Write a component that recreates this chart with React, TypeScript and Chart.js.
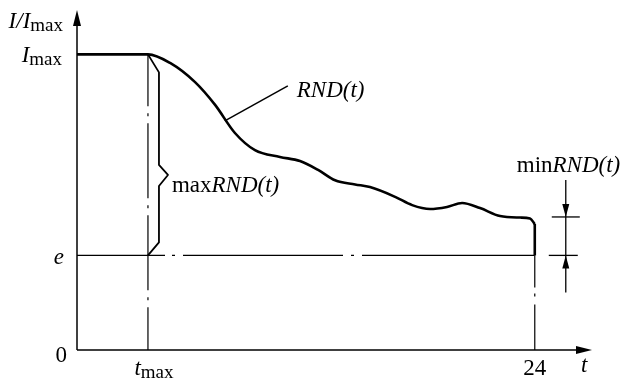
import React, { useEffect, useRef } from "react";
import { Chart, registerables } from "chart.js";

Chart.register(...registerables);

// Time axis (hours) and relative intensity RND(t) = I / I_max
const tHours = [0, 3.72, 4.88, 6.19, 7.24, 8.28, 9.33, 10.64, 11.69, 12.64, 13.53, 14.58, 15.36, 16.68, 17.57, 18.51, 19.4, 20.19, 21.13, 22.18, 23.23, 23.75, 24.0];
const rndValues = [1.0, 1.0, 0.971, 0.906, 0.829, 0.734, 0.676, 0.653, 0.639, 0.609, 0.574, 0.56, 0.551, 0.518, 0.49, 0.477, 0.484, 0.497, 0.48, 0.453, 0.448, 0.445, 0.426];
// final drop of the curve at t = 24 down to the e level
const dropT = [24.0, 24.0];
const dropValues = [0.426, 0.32];

const T_MAX = 3.72;
const T_END = 24;
const I_MAX = 1;
const E_LEVEL = 0.32;
const MIN_RND = 0.45;
const X_LIMIT = 27;
const Y_LIMIT = 1.15;
const LEADER_ANCHOR = { t: 7.75, v: 0.775 };

const yTickLabels = ["0", "e", "I_max"];
const xTickLabels = ["t_max", "24"];
const axisTitles = ["I/I_max", "t"];
const curveLabels = ["RND(t)", "maxRND(t)", "minRND(t)"];

const SERIF = '"Liberation Serif", "Times New Roman", serif';

type Part = { text: string; italic?: boolean; size: number; dy?: number };

function partsWidth(ctx: CanvasRenderingContext2D, parts: Part[]) {
  let w = 0;
  for (const p of parts) {
    ctx.font = `${p.italic ? "italic " : ""}${p.size}px ${SERIF}`;
    w += ctx.measureText(p.text).width;
  }
  return w;
}

function drawParts(ctx: CanvasRenderingContext2D, parts: Part[], x: number, y: number, align: "left" | "right" | "center") {
  const w = partsWidth(ctx, parts);
  let cx = align === "left" ? x : align === "right" ? x - w : x - w / 2;
  ctx.textAlign = "left";
  ctx.textBaseline = "alphabetic";
  ctx.fillStyle = "#000";
  for (const p of parts) {
    ctx.font = `${p.italic ? "italic " : ""}${p.size}px ${SERIF}`;
    ctx.fillText(p.text, cx, y + (p.dy || 0));
    cx += ctx.measureText(p.text).width;
  }
}

function line(ctx: CanvasRenderingContext2D, pts: number[][], width: number, dash: number[] = [], offset = 0) {
  ctx.save();
  ctx.strokeStyle = "#000";
  ctx.lineWidth = width;
  ctx.setLineDash(dash);
  ctx.lineDashOffset = offset;
  ctx.lineJoin = "round";
  ctx.beginPath();
  ctx.moveTo(pts[0][0], pts[0][1]);
  for (let i = 1; i < pts.length; i++) ctx.lineTo(pts[i][0], pts[i][1]);
  ctx.stroke();
  ctx.restore();
}

function arrowHead(ctx: CanvasRenderingContext2D, tipX: number, tipY: number, dx: number, dy: number, len: number, half: number) {
  const bx = tipX - dx * len;
  const by = tipY - dy * len;
  const px = -dy;
  const py = dx;
  ctx.save();
  ctx.fillStyle = "#000";
  ctx.beginPath();
  ctx.moveTo(tipX, tipY);
  ctx.lineTo(bx + px * half, by + py * half);
  ctx.lineTo(bx - px * half, by - py * half);
  ctx.closePath();
  ctx.fill();
  ctx.restore();
}

function splitLabel(s: string): Part[] {
  if (s.includes("_")) {
    const [a, b] = s.split("_");
    return [
      { text: a, italic: true, size: 23 },
      { text: b, italic: false, size: 19, dy: 3 },
    ];
  }
  if (s.startsWith("max") || s.startsWith("min")) {
    return [
      { text: s.slice(0, 3), italic: false, size: 23 },
      { text: s.slice(3), italic: true, size: 23 },
    ];
  }
  if (/^[0-9]+$/.test(s)) return [{ text: s, italic: false, size: 23 }];
  return [{ text: s, italic: true, size: 23 }];
}

const diagramPlugin = {
  id: "diagram",
  afterDatasetsDraw(chart: any) {
    const ctx: CanvasRenderingContext2D = chart.ctx;
    const xs = chart.scales.x;
    const ys = chart.scales.y;
    const x0 = xs.getPixelForValue(0);
    const y0 = ys.getPixelForValue(0);
    const xEnd = xs.getPixelForValue(X_LIMIT);
    const yTop = ys.getPixelForValue(Y_LIMIT);
    const xT = xs.getPixelForValue(T_MAX);
    const x24 = xs.getPixelForValue(T_END);
    const yI = ys.getPixelForValue(I_MAX);
    const yE = ys.getPixelForValue(E_LEVEL);
    const yMin = ys.getPixelForValue(MIN_RND);

    // axes
    line(ctx, [[x0, y0], [x0, yTop + 10]], 1.5);
    arrowHead(ctx, x0, yTop, 0, -1, 16, 4);
    line(ctx, [[x0, y0], [xEnd - 10, y0]], 1.5);
    arrowHead(ctx, xEnd, y0, 1, 0, 16, 4);

    // e level dash-dot line
    line(ctx, [[x0, yE], [x24, yE]], 1.3, [88, 7, 3, 8, 160, 8, 3, 8, 400]);
    // t_max vertical dash-dot
    line(ctx, [[xT, yI], [xT, y0]], 1.2, [75, 7, 3, 7], 23);
    // end vertical below e
    line(ctx, [[x24, yE], [x24, y0]], 1.2, [32, 6, 3, 8, 200]);

    // brace maxRND(t)
    const bx = xT + 11;
    const bump = yI + (yE - yI) * 0.6;
    line(ctx, [
      [xT, yI], [bx, yI + 18], [bx, bump - 10], [bx + 9, bump], [bx, bump + 11], [bx, yE - 13], [xT, yE],
    ], 1.8);

    // leader to RND(t)
    const ax = xs.getPixelForValue(LEADER_ANCHOR.t);
    const ay = ys.getPixelForValue(LEADER_ANCHOR.v);
    line(ctx, [[ax, ay], [ax + 63, ay - 35]], 1.5);

    // minRND dimension
    const dx = x24 + 31;
    line(ctx, [[dx - 14, yMin], [dx + 14, yMin]], 1.3);
    line(ctx, [[dx - 17, yE], [dx + 12, yE]], 1.3);
    line(ctx, [[dx, yMin - 37], [dx, yE + 37]], 1.3);
    arrowHead(ctx, dx, yMin, 0, 1, 13, 3.5);
    arrowHead(ctx, dx, yE, 0, -1, 13, 3.5);

    // tick labels
    drawParts(ctx, splitLabel(yTickLabels[0]), x0 - 10, y0 + 12, "right");
    drawParts(ctx, splitLabel(yTickLabels[1]), x0 - 13, yE + 9, "right");
    drawParts(ctx, splitLabel(yTickLabels[2]), x0 - 15, yI + 8, "right");
    drawParts(ctx, splitLabel(xTickLabels[0]), xT + 6, y0 + 25, "center");
    drawParts(ctx, splitLabel(xTickLabels[1]), x24, y0 + 25, "center");

    // axis titles
    drawParts(ctx, splitLabel(axisTitles[0]), x0 - 14, yTop + 18, "right");
    drawParts(ctx, splitLabel(axisTitles[1]), xEnd - 11, y0 + 22, "left");

    // curve labels
    drawParts(ctx, splitLabel(curveLabels[0]), ax + 72, ay - 24, "left");
    drawParts(ctx, splitLabel(curveLabels[1]), bx + 13, bump + 17, "left");
    drawParts(ctx, splitLabel(curveLabels[2]), dx - 49, yMin - 45, "left");
  },
};

export default function App() {
  const ref = useRef<HTMLCanvasElement | null>(null);
  useEffect(() => {
    if (!ref.current) return;
    const chart = new Chart(ref.current, {
      type: "line",
      data: {
        datasets: [
          {
            data: tHours.map((t, i) => ({ x: t, y: rndValues[i] })),
            borderColor: "#000",
            borderWidth: 2.6,
            pointRadius: 0,
            cubicInterpolationMode: "monotone",
            fill: false,
          },
          {
            data: dropT.map((t, i) => ({ x: t, y: dropValues[i] })),
            borderColor: "#000",
            borderWidth: 2.6,
            pointRadius: 0,
            fill: false,
          },
        ],
      },
      options: {
        animation: false,
        responsive: false,
        maintainAspectRatio: false,
        devicePixelRatio: 1,
        layout: { padding: { left: 77, right: 30, top: 10, bottom: 32 } },
        scales: {
          x: { type: "linear", min: 0, max: X_LIMIT, display: false },
          y: { type: "linear", min: 0, max: Y_LIMIT, display: false },
        },
        plugins: { legend: { display: false }, tooltip: { enabled: false } },
        events: [],
      },
      plugins: [diagramPlugin],
    });
    return () => chart.destroy();
  }, []);
  return (
    <div style={{ position: "absolute", left: 0, top: 0, width: 622, height: 382, background: "#fff" }}>
      <canvas ref={ref} width={622} height={382} style={{ display: "block", width: 622, height: 382 }} />
    </div>
  );
}
